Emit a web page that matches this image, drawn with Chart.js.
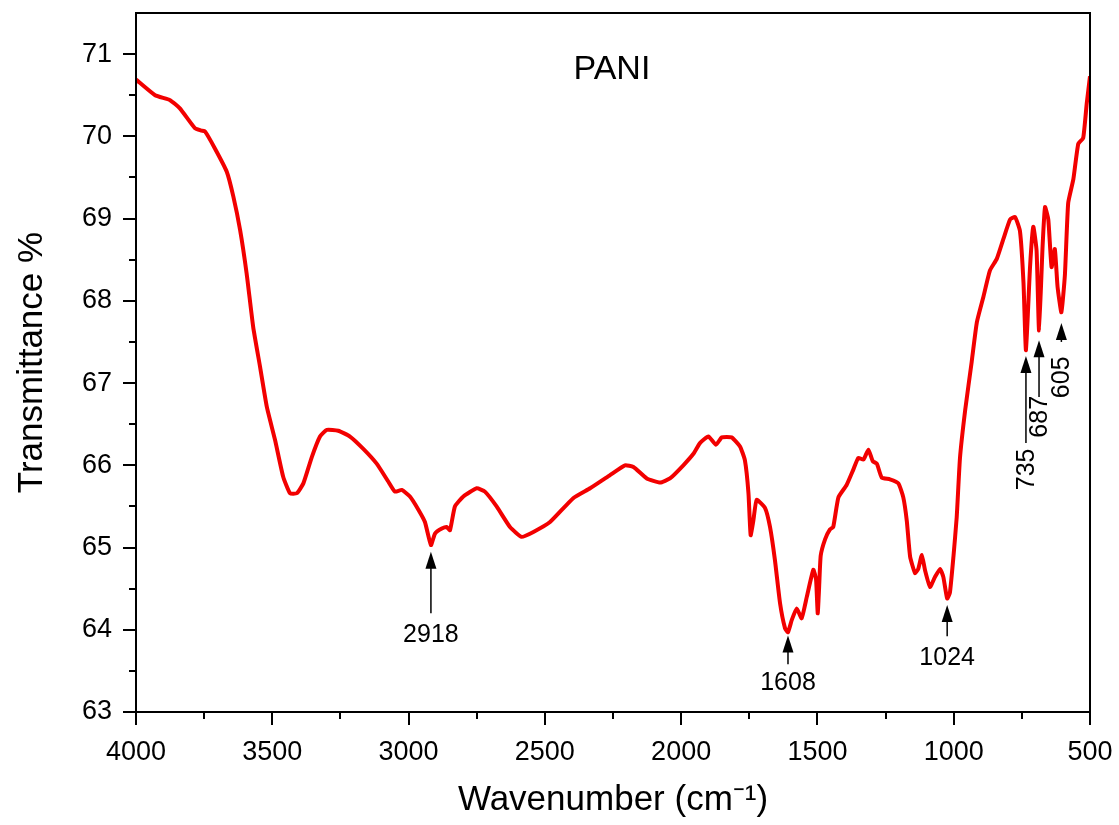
<!DOCTYPE html>
<html>
<head>
<meta charset="utf-8">
<title>PANI FTIR</title>
<script src="https://cdn.jsdelivr.net/npm/chart.js@4.4.1/dist/chart.umd.min.js"></script>
<style>
    body { margin: 0; background: #fff; }
    #chartContainer { width: 1119px; height: 825px; }
</style>
</head>
<body>
<div id="chartContainer"><canvas id="ftirChart"></canvas></div>
<script>
// spectrum (wavenumber in cm-1, transmittance in %)
const wavenumbers = [
    4000, 3930, 3875, 3839, 3784, 3760, 3747, 3710, 3667, 3643, 3618, 3594, 3570, 3545, 3520, 3490,
    3460, 3435, 3410, 3386, 3355, 3325, 3300, 3258, 3215, 3166, 3117, 3074, 3050, 3025, 2995, 2964,
    2940, 2918, 2903, 2878, 2860, 2848, 2830, 2799, 2750, 2720, 2677, 2628, 2585, 2542, 2481, 2396,
    2334, 2261, 2206, 2175, 2126, 2077, 2041, 1992, 1955, 1931, 1900, 1872, 1851, 1815, 1784, 1766,
    1753, 1745, 1735, 1723, 1692, 1674, 1656, 1637, 1619, 1608, 1594, 1576, 1558, 1539, 1515, 1505,
    1499, 1494, 1488, 1472, 1454, 1442, 1423, 1393, 1368, 1350, 1331, 1313, 1297, 1282, 1264, 1234,
    1203, 1185, 1172, 1160, 1142, 1130, 1117, 1105, 1087, 1069, 1050, 1038, 1024, 1014, 1001, 989,
    977, 958, 934, 915, 891, 867, 842, 818, 793, 775, 757, 744, 735, 720, 708, 696,
    687, 674, 665, 653, 641, 629, 619, 605, 592, 580, 561, 543, 525, 512, 500
];
const transmittance = [
    70.69, 70.50, 70.44, 70.34, 70.10, 70.07, 70.06, 69.85, 69.57, 69.27, 68.86, 68.33, 67.68, 67.20, 66.71, 66.31,
    65.86, 65.66, 65.66, 65.78, 66.10, 66.35, 66.43, 66.42, 66.35, 66.20, 66.02, 65.80, 65.68, 65.70, 65.62, 65.46,
    65.31, 65.03, 65.17, 65.23, 65.25, 65.21, 65.50, 65.62, 65.72, 65.68, 65.50, 65.25, 65.13, 65.19, 65.31, 65.60,
    65.72, 65.88, 66.00, 65.98, 65.84, 65.79, 65.84, 66.00, 66.14, 66.27, 66.35, 66.25, 66.34, 66.34, 66.23, 66.06,
    65.66, 65.15, 65.33, 65.58, 65.48, 65.25, 64.85, 64.32, 64.02, 63.97, 64.12, 64.26, 64.14, 64.40, 64.73, 64.61,
    64.20, 64.50, 64.90, 65.10, 65.22, 65.25, 65.61, 65.76, 65.95, 66.09, 66.07, 66.19, 66.05, 66.02, 65.85, 65.83,
    65.78, 65.61, 65.32, 64.89, 64.69, 64.74, 64.91, 64.72, 64.52, 64.64, 64.74, 64.64, 64.38, 64.45, 64.89, 65.37,
    66.09, 66.67, 67.26, 67.74, 68.05, 68.37, 68.51, 68.75, 68.99, 69.02, 68.85, 68.22, 67.40, 68.41, 68.90, 68.61,
    67.64, 68.66, 69.14, 68.99, 68.41, 68.63, 68.17, 67.86, 68.32, 69.19, 69.48, 69.91, 69.98, 70.40, 70.73
];

// peak labels with arrows: where the arrow points and where its label sits
const peakNames = ["2918", "1608", "1024", "735", "687", "605"];
const peakWavenumbers = [2918, 1608, 1024, 735, 687, 605];
const arrowTips = [64.95, 63.93, 64.30, 67.33, 67.52, 67.73];
const arrowTails = [64.20, 63.58, 63.92, 66.27, 66.83, 67.50];
const labelLevels = [63.93, 63.35, 63.66, 65.95, 66.59, 67.07];
const labelUpright = [true, true, true, false, false, false];

const xTicks = [4000, 3500, 3000, 2500, 2000, 1500, 1000, 500];
const yTicks = [63, 64, 65, 66, 67, 68, 69, 70, 71];

const fontFamily = "'Liberation Sans', Arial, Helvetica, sans-serif";

// frame, outward ticks (major + minor) and the peak arrows
const decorations = {
    id: "decorations",
    afterDraw(chart) {
        const ctx = chart.ctx;
        const area = chart.chartArea;
        const xs = chart.scales.x;
        const ys = chart.scales.y;

        ctx.save();
        ctx.strokeStyle = "#000";
        ctx.lineWidth = 2;
        ctx.strokeRect(area.left, area.top, area.right - area.left, area.bottom - area.top);

        ctx.beginPath();
        for (let v = 500; v <= 4000; v += 250) {
            const px = Math.round(xs.getPixelForValue(v));
            const len = xTicks.includes(v) ? 13 : 7;
            ctx.moveTo(px, area.bottom);
            ctx.lineTo(px, area.bottom + len);
        }
        for (let v = 63; v <= 71; v += 0.5) {
            const py = Math.round(ys.getPixelForValue(v));
            const len = yTicks.includes(v) ? 13 : 7;
            ctx.moveTo(area.left, py);
            ctx.lineTo(area.left - len, py);
        }
        ctx.stroke();

        // PANI label
        ctx.fillStyle = "#000";
        ctx.font = "34px " + fontFamily;
        ctx.textAlign = "center";
        ctx.textBaseline = "middle";
        ctx.fillText("PANI", xs.getPixelForValue(2254), ys.getPixelForValue(70.81));

        ctx.lineWidth = 1.5;
        ctx.font = "25px " + fontFamily;
        peakNames.forEach((name, i) => {
            const px = xs.getPixelForValue(peakWavenumbers[i]);
            const tipY = ys.getPixelForValue(arrowTips[i]);
            const tailY = ys.getPixelForValue(arrowTails[i]);
            const labelY = ys.getPixelForValue(labelLevels[i]);

            ctx.beginPath();
            ctx.moveTo(px, tipY + 12);
            ctx.lineTo(px, tailY);
            ctx.stroke();

            ctx.beginPath();
            ctx.moveTo(px, tipY);
            ctx.lineTo(px - 5.5, tipY + 17);
            ctx.lineTo(px + 5.5, tipY + 17);
            ctx.closePath();
            ctx.fill();

            if (labelUpright[i]) {
                ctx.fillText(name, px, labelY);
            } else {
                ctx.save();
                ctx.translate(px + 1, labelY);
                ctx.rotate(-Math.PI / 2);
                ctx.fillText(name, 0, 0);
                ctx.restore();
            }
        });
        ctx.restore();
    }
};

const ctx = document.getElementById("ftirChart").getContext("2d");
new Chart(ctx, {
    type: "line",
    data: {
        datasets: [{
            label: "PANI",
            data: wavenumbers.map((w, i) => ({ x: w, y: transmittance[i] })),
            borderColor: "#f20000",
            borderWidth: 4,
            pointRadius: 0,
            tension: 0.15,
            fill: false
        }]
    },
    options: {
        responsive: true,
        maintainAspectRatio: false,
        animation: false,
        layout: { padding: { top: 13, right: 29, left: 0, bottom: 0 } },
        plugins: {
            legend: { display: false },
            tooltip: { enabled: false }
        },
        scales: {
            x: {
                type: "linear",
                reverse: true,
                min: 500,
                max: 4000,
                grid: { display: false, drawTicks: false },
                border: { display: false },
                ticks: {
                    stepSize: 500,
                    padding: 24,
                    color: "#000",
                    maxRotation: 0,
                    font: { family: fontFamily, size: 27 },
                    callback: value => String(value)
                },
                title: {
                    display: true,
                    text: "Wavenumber (cm\u207B\u00B9)",
                    color: "#000",
                    font: { family: fontFamily, size: 35 },
                    padding: { top: 0, bottom: 4 }
                },
                afterFit(scale) {
                    scale.height = 113;
                    scale.paddingLeft = 0;
                    scale.paddingRight = 0;
                }
            },
            y: {
                min: 63,
                max: 71.5,
                grid: { display: false, drawTicks: false },
                border: { display: false },
                ticks: {
                    stepSize: 1,
                    includeBounds: false,
                    padding: 24,
                    color: "#000",
                    font: { family: fontFamily, size: 27 },
                    callback: value => String(value)
                },
                title: {
                    display: true,
                    text: "Transmittance %",
                    color: "#000",
                    font: { family: fontFamily, size: 35 },
                    padding: { top: 11, bottom: 0 }
                },
                afterFit(scale) {
                    scale.width = 136;
                    scale.paddingTop = 0;
                    scale.paddingBottom = 0;
                }
            }
        }
    },
    plugins: [decorations]
});
</script>
</body>
</html>
